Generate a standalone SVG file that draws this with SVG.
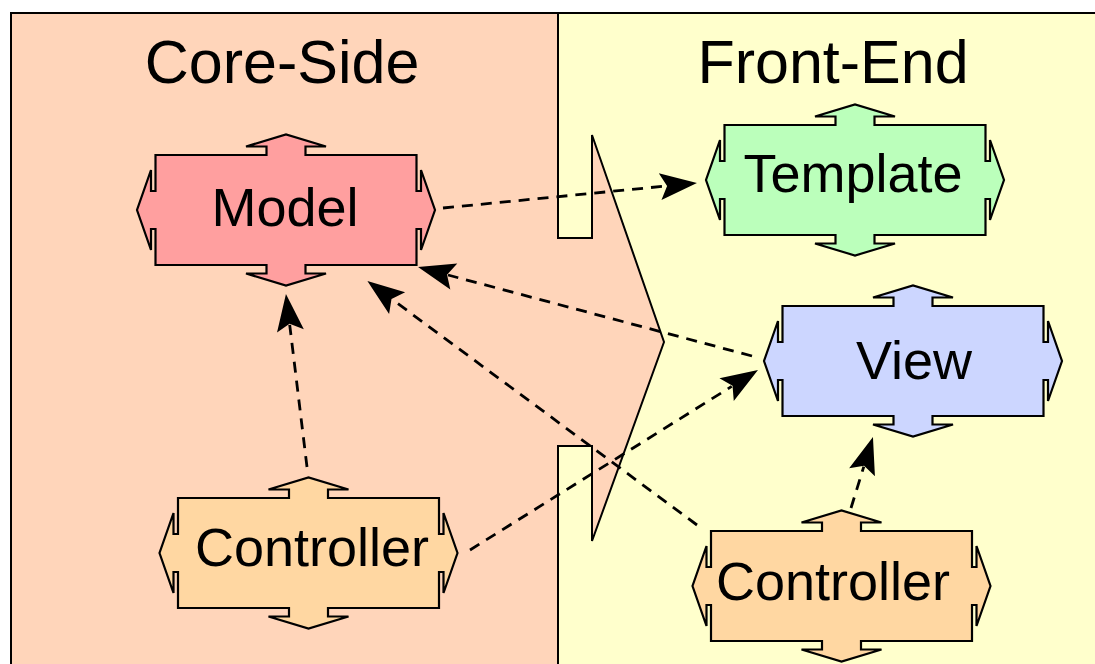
<svg xmlns="http://www.w3.org/2000/svg" width="1095" height="664" viewBox="0 0 1095 664">
  <style>
    .outline { fill: none; stroke: #000; stroke-width: 2; }
    .node { stroke: #000; stroke-width: 2.2; stroke-linejoin: miter; }
    .title { font-family: "Liberation Sans", Arial, sans-serif; font-size: 61px; fill: #000; text-anchor: middle; }
    .label { font-family: "Liberation Sans", Arial, sans-serif; font-size: 54px; fill: #000; text-anchor: middle; }
    .link { fill: none; stroke: #000; stroke-width: 2.8; stroke-dasharray: 11 8; marker-end: url(#head); }
    .model { fill: #FF9F9F; }
    .template { fill: #BBFFBB; }
    .view { fill: #CCD6FF; }
    .controller { fill: #FFD7A2; }
  </style>
  <defs>
    <!-- box with a double-headed arrow stub on each side, centred on 0,0 -->
    <path id="block" d="M-130.5,-55 H-19.5 V-63.5 H-40 L0,-75.5 L40,-63.5 H19.5 V-55 H130.5 V-19 H135 V-40 L149,0 L135,40 V19 H130.5 V55 H19.5 V63.5 H40 L0,75.5 L-40,63.5 H-19.5 V55 H-130.5 V19 H-135 V40 L-149,0 L-135,-40 V-19 H-130.5 Z"/>
    <marker id="head" markerUnits="userSpaceOnUse" markerWidth="40" markerHeight="30" refX="6" refY="14" orient="auto" overflow="visible">
      <path d="M37,14 L0,0.5 L7,14 L0,27.5 Z" fill="#000"/>
    </marker>
  </defs>

  <!-- panels -->
  <g id="panels">
    <rect x="11" y="13" width="547" height="651" fill="#FFD5BA"/>
    <rect x="558" y="13" width="537" height="651" fill="#FFFFCC"/>
    <path d="M558,238 H592 V135 L664,342 L592,541 V446 H558 Z" fill="#FFD5BA"/>
    <path class="outline" d="M11,664 V13 H1095"/>
    <path class="outline" d="M558,13 V238 H592 V135 L664,342 L592,541 V446 H558 V664"/>
    <text class="title" x="282" y="83">Core-Side</text>
    <text class="title" x="833" y="83">Front-End</text>
  </g>

  <!-- nodes -->
  <g id="model">
    <use href="#block" class="node model" transform="translate(286,210)"/>
    <text class="label" x="285" y="226">Model</text>
  </g>
  <g id="template">
    <use href="#block" class="node template" transform="translate(855,180)"/>
    <text class="label" x="853" y="192">Template</text>
  </g>
  <g id="view">
    <use href="#block" class="node view" transform="translate(913,361)"/>
    <text class="label" x="914" y="379">View</text>
  </g>
  <g id="core-controller">
    <use href="#block" class="node controller" transform="translate(308.5,553)"/>
    <text class="label" x="312" y="566">Controller</text>
  </g>
  <g id="front-controller">
    <use href="#block" class="node controller" transform="translate(841.5,586)"/>
    <text class="label" x="833" y="600">Controller</text>
  </g>

  <!-- connectors -->
  <g id="connectors">
    <path class="link" d="M443,208 L666.1,186"/>
    <path class="link" d="M752,356 L448,275"/>
    <path class="link" d="M697,525 L392.3,299.5"/>
    <path class="link" d="M307,467 L289.7,324.8"/>
    <path class="link" d="M470,550 L731.7,386.4"/>
    <path class="link" d="M851,508 L863.8,466.6"/>
  </g>
</svg>
